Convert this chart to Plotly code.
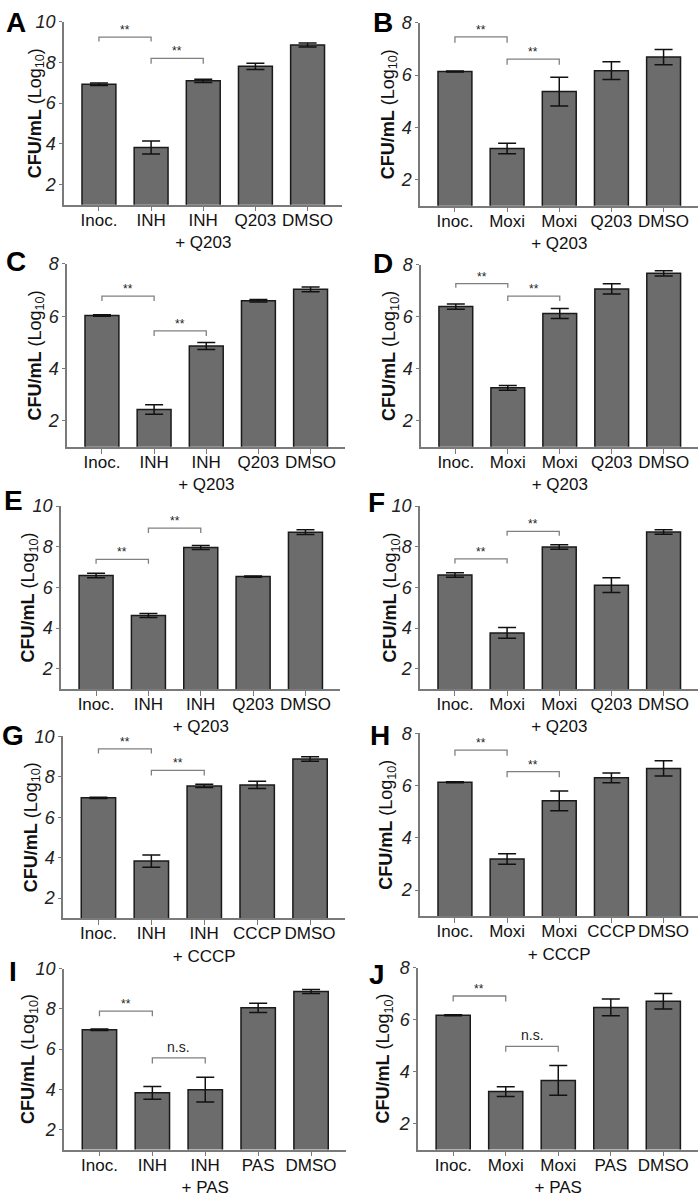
import plotly.graph_objects as go

W, H = 700, 1197

# ---------------- data ----------------
cats_inh_q = ["Inoc.", "INH", "INH<br>+ Q203", "Q203", "DMSO"]
cats_moxi_q = ["Inoc.", "Moxi", "Moxi<br>+ Q203", "Q203", "DMSO"]
cats_inh_cccp = ["Inoc.", "INH", "INH<br>+ CCCP", "CCCP", "DMSO"]
cats_moxi_cccp = ["Inoc.", "Moxi", "Moxi<br>+ CCCP", "CCCP", "DMSO"]
cats_inh_pas = ["Inoc.", "INH", "INH<br>+ PAS", "PAS", "DMSO"]
cats_moxi_pas = ["Inoc.", "Moxi", "Moxi<br>+ PAS", "PAS", "DMSO"]

a_mean = [6.93, 3.82, 7.10, 7.81, 8.86]
a_err = [0.06, 0.32, 0.08, 0.15, 0.10]
b_mean = [6.14, 3.19, 5.37, 6.17, 6.69]
b_err = [0.02, 0.20, 0.55, 0.34, 0.29]
c_mean = [6.03, 2.43, 4.86, 6.59, 7.03]
c_err = [0.03, 0.18, 0.13, 0.05, 0.09]
d_mean = [6.40, 3.27, 6.13, 7.08, 7.68]
d_err = [0.10, 0.09, 0.19, 0.20, 0.10]
e_mean = [6.59, 4.62, 7.96, 6.53, 8.72]
e_err = [0.11, 0.10, 0.10, 0.03, 0.12]
f_mean = [6.61, 3.76, 7.99, 6.11, 8.73]
f_err = [0.11, 0.26, 0.11, 0.36, 0.11]
g_mean = [6.96, 3.83, 7.55, 7.60, 8.88]
g_err = [0.03, 0.30, 0.08, 0.18, 0.11]
h_mean = [6.13, 3.19, 5.42, 6.30, 6.66]
h_err = [0.02, 0.20, 0.38, 0.19, 0.29]
i_mean = [6.96, 3.82, 3.98, 8.05, 8.86]
i_err = [0.04, 0.32, 0.62, 0.23, 0.10]
j_mean = [6.17, 3.23, 3.66, 6.47, 6.71]
j_err = [0.02, 0.19, 0.57, 0.32, 0.30]

# significance brackets: (from, to, level, tip, label)
a_br = [(0, 1, 9.25, 9.03, "**"), (1, 2, 8.20, 7.94, "**")]
b_br = [(0, 1, 7.46, 7.24, "**"), (1, 2, 6.61, 6.40, "**")]
c_br = [(0, 1, 6.77, 6.58, "**"), (1, 2, 5.44, 5.24, "**")]
d_br = [(0, 1, 7.28, 7.12, "**"), (1, 2, 6.80, 6.61, "**")]
e_br = [(0, 1, 7.38, 7.16, "**"), (1, 2, 8.92, 8.68, "**")]
f_br = [(0, 1, 7.40, 7.17, "**"), (1, 2, 8.76, 8.54, "**")]
g_br = [(0, 1, 9.38, 9.15, "**"), (1, 2, 8.32, 8.07, "**")]
h_br = [(0, 1, 7.36, 7.15, "**"), (1, 2, 6.54, 6.32, "**")]
i_br = [(0, 1, 7.89, 7.63, "**"), (1, 2, 5.56, 5.28, "n.s.")]
j_br = [(0, 1, 6.91, 6.70, "**"), (1, 2, 4.97, 4.76, "n.s.")]

y_title = "<b>CFU/mL</b> (Log<sub>10</sub>)"

# ---------------- layout geometry (pixels) ----------------
# letter, cats, means, errs, brackets, ymax, (x0, x1, ytop, ybottom), title_x, (letter_x, letter_y)
panels = [
    ("A", cats_inh_q, a_mean, a_err, a_br, 10, (64, 342, 12, 197), 36, (16, 13)),
    ("B", cats_moxi_q, b_mean, b_err, b_br, 8, (420, 698, 13, 198), 389, (383, 13)),
    ("C", cats_inh_q, c_mean, c_err, c_br, 8, (67, 345, 257, 442), 36, (16, 254)),
    ("D", cats_moxi_q, d_mean, d_err, d_br, 8, (421, 698, 258, 442), 391, (383, 257)),
    ("E", cats_inh_q, e_mean, e_err, e_br, 10, (61, 340, 502, 687), 30, (13, 496)),
    ("F", cats_moxi_q, f_mean, f_err, f_br, 10, (420, 698, 502, 687), 392, (376, 498)),
    ("G", cats_inh_cccp, g_mean, g_err, g_br, 10, (63, 345, 735, 919), 32, (13, 734)),
    ("H", cats_moxi_cccp, h_mean, h_err, h_br, 8, (420, 698, 732, 917), 388, (380, 734)),
    ("I", cats_inh_pas, i_mean, i_err, i_br, 10, (64, 346, 970, 1153), 29, (13, 973)),
    ("J", cats_moxi_pas, j_mean, j_err, j_br, 8, (418, 698, 969, 1153), 385, (377, 976)),
]

FONT = "Liberation Sans, Arial, Helvetica, sans-serif"
AXIS_COL = "#7a7a7a"

fig = go.Figure()
annotations = []
layout_axes = {}

for k, (letter, cats, means, errs, brs, ymax, box, tx, lpos) in enumerate(panels):
    n = k + 1
    xa = "x" if n == 1 else f"x{n}"
    ya = "y" if n == 1 else f"y{n}"
    xs = list(range(len(cats)))

    fig.add_trace(go.Bar(
        x=xs, y=means, xaxis=xa, yaxis=ya, width=0.65,
        marker=dict(color="#6c6c6c", line=dict(color="#1a1a1a", width=1.5)),
        error_y=dict(type="data", array=errs, color="#111111", thickness=1.5, width=9),
        showlegend=False, hoverinfo="skip",
    ))
    for (i0, i1, lev, tip, lab) in brs:
        fig.add_trace(go.Scatter(
            x=[i0, i0, i1, i1], y=[tip, lev, lev, tip], xaxis=xa, yaxis=ya,
            mode="lines", line=dict(color="#808080", width=1.3),
            showlegend=False, hoverinfo="skip",
        ))
        is_ns = lab != "**"
        annotations.append(dict(
            x=(i0 + i1) / 2, y=lev, xref=xa, yref=ya, text=lab, showarrow=False,
            xanchor="center", yanchor="bottom", yshift=1 if is_ns else -2,
            font=dict(family=FONT, size=14 if is_ns else 12, color="#222222"),
        ))

    x0, x1, yt, yb = box
    xdom = [x0 / W, x1 / W]
    ydom = [1 - yb / H, 1 - yt / H]
    key = "" if n == 1 else str(n)
    layout_axes[f"xaxis{key}"] = dict(
        domain=xdom, anchor=ya, range=[-0.67, 4.66], tickvals=xs, ticktext=cats,
        tickangle=0, ticklabelstandoff=-6,
        showline=True, linecolor=AXIS_COL, linewidth=1.5, showgrid=False, zeroline=False,
        ticks="outside", ticklen=5, tickwidth=1.3, tickcolor=AXIS_COL,
        tickfont=dict(family=FONT, size=17, color="#111111"), fixedrange=True,
    )
    layout_axes[f"yaxis{key}"] = dict(
        domain=ydom, anchor=xa, range=[1, ymax], tickvals=list(range(2, ymax + 1, 2)),
        showline=True, linecolor=AXIS_COL, linewidth=1.5, showgrid=False, zeroline=False,
        ticks="outside", ticklen=3, tickwidth=1.3, tickcolor=AXIS_COL,
        tickfont=dict(family=FONT, size=18, color="#222222", style="italic"), fixedrange=True,
    )
    annotations.append(dict(
        x=tx / W, y=1 - (yt + yb) / 2 / H, xref="paper", yref="paper", text=y_title,
        textangle=-90, showarrow=False, xanchor="center", yanchor="middle",
        font=dict(family=FONT, size=18, color="#111111"),
    ))
    annotations.append(dict(
        x=lpos[0] / W, y=1 - lpos[1] / H, xref="paper", yref="paper", text=f"<b>{letter}</b>",
        showarrow=False, xanchor="center", yanchor="middle",
        font=dict(family=FONT, size=28, color="#000000"),
    ))

fig.update_layout(
    width=W, height=H, margin=dict(l=0, r=0, t=0, b=0),
    paper_bgcolor="white", plot_bgcolor="white",
    annotations=annotations, bargap=0.35, **layout_axes,
)

fig.write_html(
    "out.html",
    config={"displayModeBar": False},
    post_script="document.body.style.margin='0px';document.body.style.overflow='hidden';",
)
